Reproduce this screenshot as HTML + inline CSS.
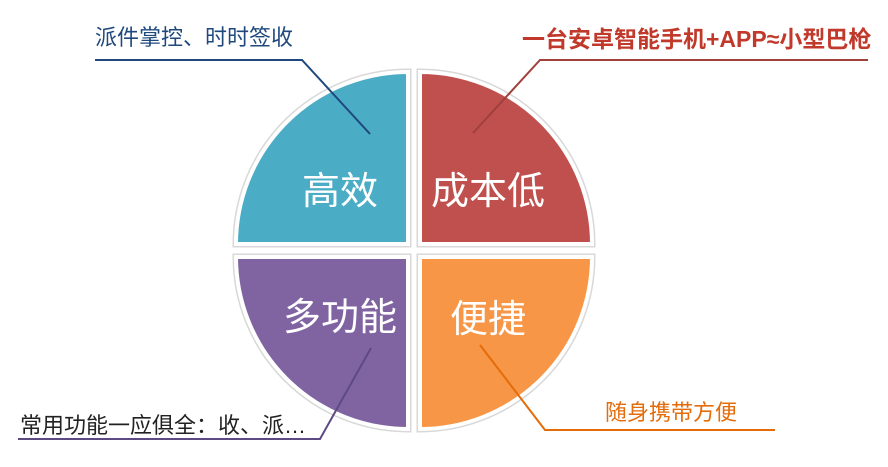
<!DOCTYPE html>
<html><head><meta charset="utf-8"><style>
html,body{margin:0;padding:0;background:#fff;width:888px;height:467px;overflow:hidden}
svg text{font-family:"Liberation Sans","Noto Sans CJK SC",sans-serif}
</style></head><body>
<svg width="888" height="467" viewBox="0 0 888 467">
<g stroke="#d8d8d8" stroke-width="7" fill="none">
<path d="M408,244 L236,244 A172,172 0 0 1 408,72 Z"/>
<path d="M420,244 L420,72 A172,172 0 0 1 592,244 Z"/>
<path d="M408,257 L236,257 A172,172 0 0 0 408,429 Z"/>
<path d="M420,257 L420,429 A172,172 0 0 0 592,257 Z"/>
</g>
<g stroke="#fff" stroke-width="4">
<path d="M408,244 L236,244 A172,172 0 0 1 408,72 Z" fill="#4BACC6"/>
<path d="M420,244 L420,72 A172,172 0 0 1 592,244 Z" fill="#C0504D"/>
<path d="M408,257 L236,257 A172,172 0 0 0 408,429 Z" fill="#8064A2"/>
<path d="M420,257 L420,429 A172,172 0 0 0 592,257 Z" fill="#F79646"/>
</g>
<g fill="#fff" font-size="38" text-anchor="middle">
<text x="340" y="204">高效</text>
<text x="488" y="204">成本低</text>
<text x="340" y="330">多功能</text>
<text x="488" y="332">便捷</text>
</g>
<g fill="none" stroke-width="2">
<polyline points="95,60 302,60 370,134" stroke="#1F497D"/>
<polyline points="868,60 540,60 473,133" stroke="#A0403D"/>
<polyline points="18,439 320,439 371,348" stroke="#5E4A82"/>
<polyline points="775,430 545,430 480,345" stroke="#E46C0A"/>
</g>
<text x="95" y="45" font-size="22" fill="#1F497D">派件掌控、时时签收</text>
<text x="522" y="47" font-size="23" font-weight="bold" fill="#C0392B">一台安卓智能手机+APP≈小型巴枪</text>
<text x="20" y="433" font-size="22" fill="#222">常用功能一应俱全：收、派…</text>
<text x="605" y="420" font-size="22" fill="#E46C0A">随身携带方便</text>
</svg>
</body></html>
